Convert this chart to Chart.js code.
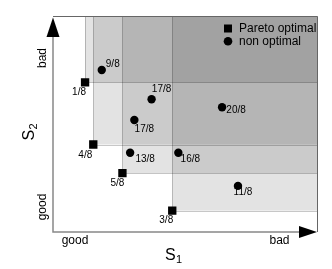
<!DOCTYPE html>
<html><head><meta charset="utf-8">
<script src="https://cdn.jsdelivr.net/npm/chart.js@4/dist/chart.umd.min.js"></script>
<style>html,body{margin:0;padding:0;background:#fff}</style>
</head><body>
<canvas id="c" width="332" height="269"></canvas>
<script>
// ---- data ----
const paretoLabels = ["1/8", "4/8", "5/8", "3/8"];
const paretoX = [1.21, 1.52, 2.62, 4.50];
const paretoY = [6.94, 4.06, 2.73, 0.99];
const otherLabels = ["9/8", "17/8", "17/8", "20/8", "13/8", "16/8", "11/8"];
const otherX = [1.84, 3.72, 3.07, 6.38, 2.91, 4.73, 6.98];
const otherY = [7.52, 6.16, 5.20, 5.79, 3.68, 3.68, 2.14];
const axisMin = 0, axisMax = 10;
const axisEndLabels = ["good", "bad"];
const axisNames = ["S", "1", "S", "2"];
const legendLabels = ["Pareto optimal", "non optimal"];

// ---- styling ----
const FONT = '"Liberation Sans", Arial, sans-serif';
const paretoOffsets = [[-6, 10], [-8, 11], [-5, 10], [-6, 10]];
const otherOffsets = [[11, -6], [10, -10], [10, 9], [14, 3], [15, 7], [12, 7], [5, 6]];

const deco = {
  id: 'deco',
  beforeDatasetsDraw(chart) {
    const { ctx, chartArea: a, scales: { x, y } } = chart;
    ctx.save();
    paretoX.forEach((v, i) => {
      const px = x.getPixelForValue(v), py = y.getPixelForValue(paretoY[i]);
      ctx.fillStyle = 'rgba(0,0,0,0.11)';
      ctx.fillRect(px, a.top, a.right - px, py - a.top);
    });
    ctx.strokeStyle = 'rgba(0,0,0,0.22)';
    ctx.lineWidth = 1;
    paretoX.forEach((v, i) => {
      const px = Math.round(x.getPixelForValue(v)) + 0.5, py = Math.round(y.getPixelForValue(paretoY[i])) + 0.5;
      ctx.beginPath();
      ctx.moveTo(px, a.top); ctx.lineTo(px, py); ctx.lineTo(a.right, py);
      ctx.stroke();
    });
    // frame top/right
    ctx.strokeStyle = '#666';
    ctx.beginPath();
    ctx.moveTo(a.left, Math.floor(a.top) + 0.5);
    ctx.lineTo(Math.floor(a.right) - 0.5, Math.floor(a.top) + 0.5);
    ctx.lineTo(Math.floor(a.right) - 0.5, a.bottom);
    ctx.stroke();
    // axes
    ctx.strokeStyle = '#888';
    ctx.lineWidth = 1.5;
    ctx.beginPath();
    ctx.moveTo(a.left, a.top + 10); ctx.lineTo(a.left, a.bottom); ctx.lineTo(a.right - 10, a.bottom);
    ctx.stroke();
    // arrows
    ctx.fillStyle = '#000';
    ctx.beginPath();
    ctx.moveTo(a.left, a.top + 1); ctx.lineTo(a.left - 6.5, a.top + 20.5); ctx.lineTo(a.left + 6.5, a.top + 20.5);
    ctx.closePath(); ctx.fill();
    ctx.beginPath();
    ctx.moveTo(a.right - 1, a.bottom); ctx.lineTo(a.right - 19, a.bottom - 6); ctx.lineTo(a.right - 19, a.bottom + 6);
    ctx.closePath(); ctx.fill();
    ctx.restore();
  },
  afterDatasetsDraw(chart) {
    const { ctx, chartArea: a, scales: { x, y } } = chart;
    ctx.save();
    ctx.fillStyle = '#000';
    ctx.textAlign = 'center';
    ctx.textBaseline = 'middle';
    ctx.font = '10px ' + FONT;
    paretoLabels.forEach((t, i) => {
      ctx.fillText(t, x.getPixelForValue(paretoX[i]) + paretoOffsets[i][0], y.getPixelForValue(paretoY[i]) + paretoOffsets[i][1]);
    });
    otherLabels.forEach((t, i) => {
      ctx.fillText(t, x.getPixelForValue(otherX[i]) + otherOffsets[i][0], y.getPixelForValue(otherY[i]) + otherOffsets[i][1]);
    });
    // legend
    ctx.font = '12px ' + FONT;
    ctx.textAlign = 'left';
    const lx = a.right - 90, ly = a.top + 12;
    ctx.fillRect(lx - 4, ly - 4, 8, 8);
    ctx.beginPath(); ctx.arc(lx, ly + 12.7, 4.3, 0, Math.PI * 2); ctx.fill();
    ctx.fillText(legendLabels[0], lx + 11, ly);
    ctx.fillText(legendLabels[1], lx + 11, ly + 12.7);
    // x axis labels
    ctx.textAlign = 'center';
    ctx.fillText(axisEndLabels[0], a.left + 22, a.bottom + 9);
    ctx.fillText(axisEndLabels[1], a.right - 38.5, a.bottom + 9);
    // y axis labels (rotated)
    ctx.save();
    ctx.translate(a.left - 10, 0);
    ctx.rotate(-Math.PI / 2);
    ctx.fillText(axisEndLabels[1], -(a.top + 41.5), 0);
    ctx.fillText(axisEndLabels[0], -(a.bottom - 25), 0);
    ctx.restore();
    // axis names
    ctx.font = '16px ' + FONT;
    ctx.textAlign = 'left';
    ctx.fillText(axisNames[0], 165, 256);
    ctx.font = '11px ' + FONT;
    ctx.fillText(axisNames[1], 176, 260);
    ctx.save();
    ctx.translate(30, 0);
    ctx.rotate(-Math.PI / 2);
    ctx.font = '16px ' + FONT;
    ctx.fillText(axisNames[2], -140.5, 0);
    ctx.font = '11px ' + FONT;
    ctx.fillText(axisNames[3], -129.5, 4);
    ctx.restore();
    ctx.restore();
  }
};

new Chart(document.getElementById('c'), {
  type: 'scatter',
  data: {
    datasets: [
      {
        label: legendLabels[0],
        data: paretoX.map((v, i) => ({ x: v, y: paretoY[i] })),
        pointStyle: 'rect', pointRadius: 5.9, backgroundColor: '#000', borderColor: '#000', borderWidth: 0
      },
      {
        label: legendLabels[1],
        data: otherX.map((v, i) => ({ x: v, y: otherY[i] })),
        pointStyle: 'circle', pointRadius: 4.2, backgroundColor: '#000', borderColor: '#000', borderWidth: 0
      }
    ]
  },
  options: {
    responsive: false,
    animation: false,
    devicePixelRatio: 1,
    layout: { padding: { left: 53, right: 14, top: 16.5, bottom: 37 } },
    scales: {
      x: { type: 'linear', min: axisMin, max: axisMax, display: false },
      y: { type: 'linear', min: axisMin, max: axisMax, display: false }
    },
    plugins: { legend: { display: false }, tooltip: { enabled: false } }
  },
  plugins: [deco]
});
</script>
</body></html>
